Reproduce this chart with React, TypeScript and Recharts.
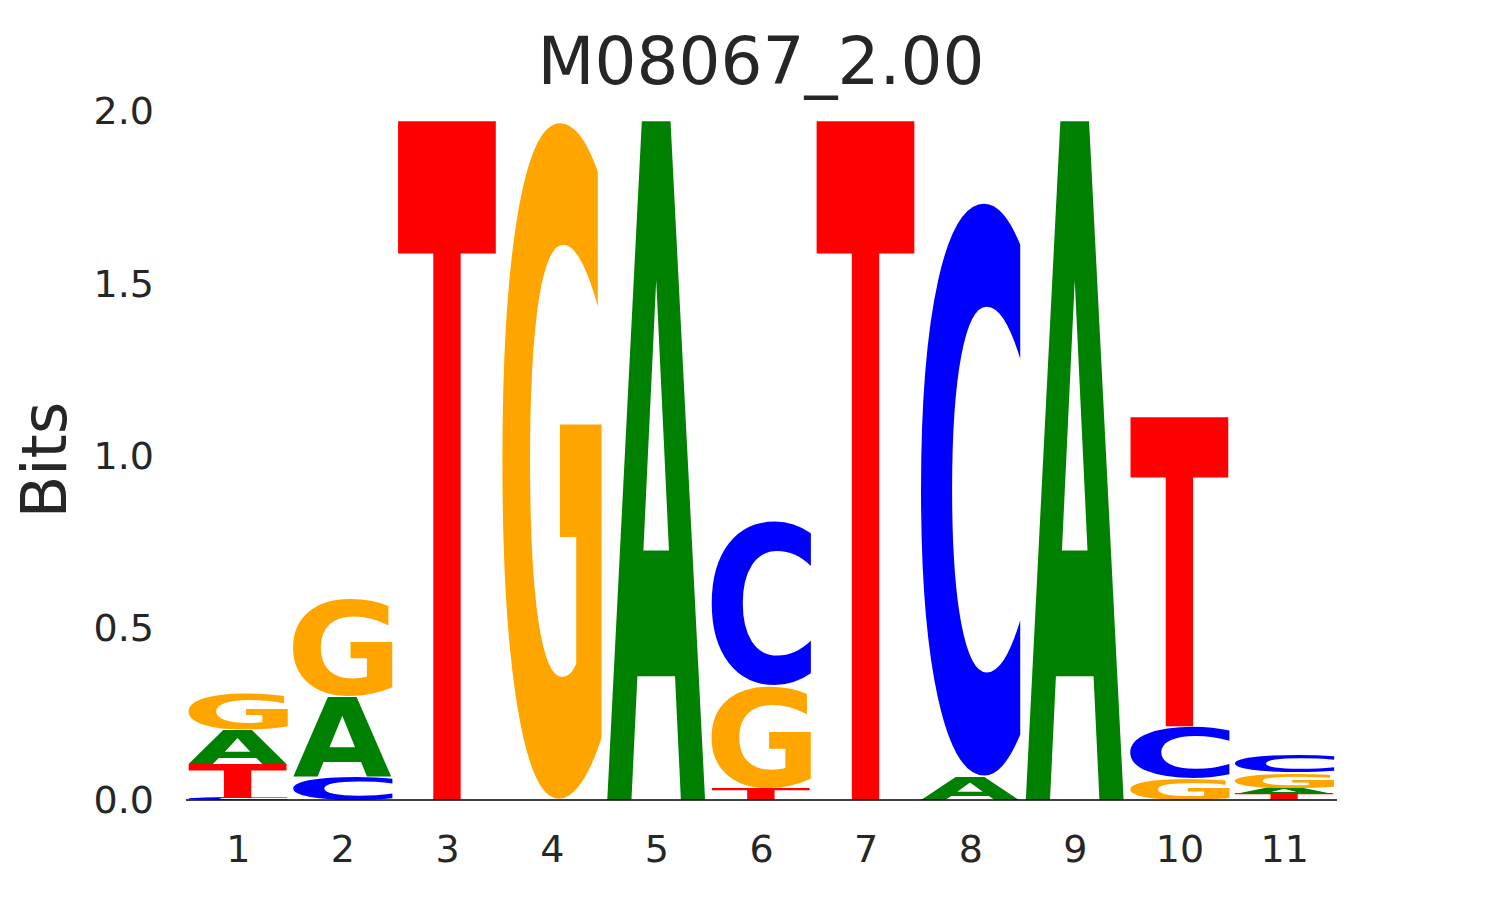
import React from "react";
import { BarChart, Bar, XAxis, YAxis } from "recharts";

// information content (bits) per letter
const positions = ["1", "2", "3", "4", "5", "6", "7", "8", "9", "10", "11"];
const bitsA = [0.1, 0.232, 0, 0, 1.985, 0, 0, 0.068, 1.985, 0, 0.018];
const bitsC = [0.006, 0.07, 0, 0, 0, 0.478, 0, 1.68, 0, 0.15, 0.052];
const bitsG = [0.107, 0.287, 0, 1.985, 0, 0.299, 0, 0, 0, 0.064, 0.044];
const bitsT = [0.099, 0, 1.985, 0, 0, 0.035, 1.985, 0, 0, 0.904, 0.017];
const yTicks = [0, 0.5, 1, 1.5, 2];

const LETTERS = ["A", "C", "G", "T"];
const COLORS: Record<string, string> = {
  A: "#008000",
  C: "#0000ff",
  G: "#ffa500",
  T: "#ff0000",
};
const TEXT = "#262626";
const FONT = "DejaVu Sans";
const GLYPH_SIZE = 1000;

// stack letters smallest at the bottom
const rows = positions.map((pos, i) => {
  const vals: Record<string, number> = {
    A: bitsA[i],
    C: bitsC[i],
    G: bitsG[i],
    T: bitsT[i],
  };
  const order = [...LETTERS].sort((a, b) => vals[a] - vals[b]);
  const row: any = { pos };
  order.forEach((l, k) => {
    row[`r${k}`] = vals[l];
    row[`l${k}`] = l;
  });
  return row;
});

// ink box of each glyph, so letters can be stretched to fill their slot
const metrics: Record<string, { l: number; r: number; a: number; d: number }> = {};
(() => {
  const ctx = document.createElement("canvas").getContext("2d");
  LETTERS.forEach((ch) => {
    let m = { l: 0, r: 700, a: 730, d: 0 };
    if (ctx) {
      ctx.font = `bold ${GLYPH_SIZE}px "${FONT}"`;
      const t = ctx.measureText(ch);
      if (t.actualBoundingBoxRight) {
        m = {
          l: t.actualBoundingBoxLeft,
          r: t.actualBoundingBoxRight,
          a: t.actualBoundingBoxAscent,
          d: t.actualBoundingBoxDescent,
        };
      }
    }
    metrics[ch] = m;
  });
})();

const Glyph = (props: any) => {
  const { x, y, width, height, letter } = props;
  if (!letter || !height || height < 0.3) return null;
  const m = metrics[letter];
  const sx = width / (m.l + m.r);
  const sy = height / (m.a + m.d);
  return (
    <text
      x={0}
      y={0}
      fontSize={GLYPH_SIZE}
      fontFamily={FONT}
      fontWeight="bold"
      fill={COLORS[letter]}
      transform={`translate(${x + m.l * sx}, ${y + m.a * sy}) scale(${sx}, ${sy})`}
    >
      {letter}
    </text>
  );
};

const Titles = () => (
  <g>
    <text
      x={761}
      y={84}
      textAnchor="middle"
      fontSize={66}
      fontFamily={FONT}
      fill={TEXT}
    >
      M08067_2.00
    </text>
    <text
      x={66}
      y={460}
      textAnchor="middle"
      transform="rotate(-90 66 460)"
      fontSize={62}
      fontFamily={FONT}
      fill={TEXT}
    >
      Bits
    </text>
  </g>
);

export default function App() {
  const tickStyle = { fontSize: 38, fill: TEXT, fontFamily: FONT };
  return (
    <div
      style={{
        position: "absolute",
        left: 0,
        top: 0,
        width: 1485,
        height: 900,
        background: "#fff",
      }}
    >
      <BarChart
        width={1485}
        height={900}
        data={rows}
        margin={{ top: 111, right: 148, bottom: 40, left: 0 }}
        barCategoryGap="2%"
      >
        <XAxis
          dataKey="pos"
          height={60}
          axisLine={{ stroke: "#000", strokeWidth: 1.5 }}
          tickLine={false}
          tickMargin={29}
          tick={tickStyle}
          interval={0}
        />
        <YAxis
          type="number"
          domain={[0, 2]}
          ticks={yTicks}
          tickFormatter={(v: number) => v.toFixed(1)}
          width={186}
          axisLine={false}
          tickLine={false}
          tickMargin={26}
          tick={tickStyle}
          label={{ content: () => <Titles /> }}
        />
        {[0, 1, 2, 3].map((k) => (
          <Bar
            key={k}
            dataKey={`r${k}`}
            stackId="logo"
            isAnimationActive={false}
            shape={(p: any) => <Glyph {...p} letter={p.payload[`l${k}`]} />}
          />
        ))}
      </BarChart>
    </div>
  );
}
